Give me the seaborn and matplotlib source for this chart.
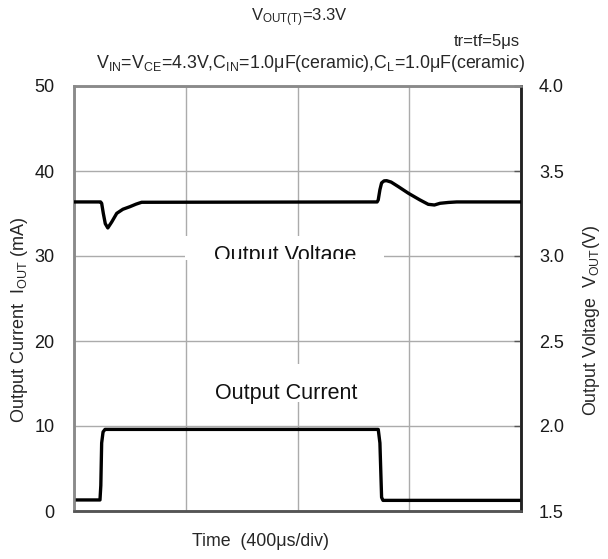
import matplotlib
matplotlib.use("Agg")
import matplotlib.pyplot as plt
import seaborn as sns
import pandas as pd
from matplotlib.patches import Rectangle

# ---- data (time in microseconds) ----
t_volt = [0, 95, 99, 105, 112, 121, 135, 153, 175, 200, 222, 242, 1085, 1089, 1095, 1101, 1110, 1119, 1135, 1161, 1197, 1238, 1268, 1290, 1310, 1340, 1370, 1600]
v_out = [3.318, 3.318, 3.31, 3.25, 3.19, 3.165, 3.20, 3.251, 3.275, 3.29, 3.305, 3.316, 3.318, 3.33, 3.39, 3.43, 3.442, 3.443, 3.435, 3.408, 3.369, 3.33, 3.304, 3.30, 3.31, 3.315, 3.318, 3.318]

t_curr = [0, 93, 96, 99, 104, 111, 1089, 1095, 1101, 1106, 1600]
i_out = [1.3, 1.3, 3.0, 8.0, 9.3, 9.6, 9.6, 8.0, 1.6, 1.25, 1.25]

x_ticks = [0, 400, 800, 1200, 1600]
y_left_ticks = [0, 10, 20, 30, 40, 50]
y_right_ticks = [1.5, 2.0, 2.5, 3.0, 3.5, 4.0]

sns.set_style("white")
plt.rcParams['font.family'] = ['Liberation Sans', 'DejaVu Sans']
plt.rcParams['mathtext.fontset'] = 'custom'
plt.rcParams['mathtext.rm'] = 'Liberation Sans'
plt.rcParams['mathtext.it'] = 'Liberation Sans:italic'
plt.rcParams['mathtext.bf'] = 'Liberation Sans:bold'

W, H = 608, 559
fig = plt.figure(figsize=(W / 100, H / 100), dpi=100)
L, R, T, B = 74, 521, 86, 511
ax = fig.add_axes([L / W, 1 - B / H, (R - L) / W, (B - T) / H])
ax2 = ax.twinx()

df_i = pd.DataFrame({"t": t_curr, "i": i_out})
df_v = pd.DataFrame({"t": t_volt, "v": v_out})

sns.lineplot(data=df_i, x="t", y="i", ax=ax, color="black", lw=2.4, estimator=None, zorder=5)
sns.lineplot(data=df_v, x="t", y="v", ax=ax2, color="black", lw=2.4, estimator=None, zorder=5)

ax.set_xlim(0, 1600)
ax.set_ylim(0, 50)
ax2.set_ylim(1.5, 4.0)
ax.set_xticks(x_ticks)
ax.set_xticklabels([])
ax.set_yticks(y_left_ticks)
ax.set_yticklabels([str(v) for v in y_left_ticks])
ax2.set_yticks(y_right_ticks)
ax2.set_yticklabels([f"{v:.1f}" for v in y_right_ticks])
ax.grid(True, color="#ababab", lw=1.0)
ax.set_axisbelow(True)
ax.set_xlabel("")
ax.set_ylabel("")
ax2.set_ylabel("")

ax.tick_params(axis="x", direction="out", length=5, width=1, color="#808080")
ax.tick_params(axis="y", length=0, pad=14, labelsize=13, labelcolor="#1a1a1a")
ax2.tick_params(axis="y", direction="in", length=5, width=1, color="#555555", pad=13, labelsize=13, labelcolor="#1a1a1a")

for a in (ax, ax2):
    for s in ("left", "top", "bottom"):
        a.spines[s].set_color("#8a8a8a")
        a.spines[s].set_linewidth(1.8)
    a.spines["right"].set_color("#222222")
    a.spines["right"].set_linewidth(1.8)
ax.spines["bottom"].set_color("#555555")
ax2.spines["bottom"].set_color("#555555")

def ax_x(px):
    return (px - L) / (R - L)

def ax_y(py):
    return (B - py) / (B - T)

# annotation boxes (white) covering gridlines
box_v = Rectangle((ax_x(185), ax_y(260)), ax_x(384) - ax_x(185), ax_y(236) - ax_y(260),
                  transform=ax2.transAxes, facecolor="white", edgecolor="none", zorder=2)
ax2.add_patch(box_v)
clip_v = Rectangle((ax_x(185), ax_y(259)), ax_x(384) - ax_x(185), ax_y(230) - ax_y(259),
                   transform=ax2.transAxes, facecolor="none", edgecolor="none")
ax2.add_patch(clip_v)
tv = ax2.text(ax_x(285), ax_y(261.5), "Output Voltage", transform=ax2.transAxes,
              ha="center", va="baseline", fontsize=15.5, color="#111111", zorder=3,
              clip_on=True)
tv.set_clip_path(clip_v)

box_i = Rectangle((ax_x(196), ax_y(402)), ax_x(374) - ax_x(196), ax_y(364) - ax_y(402),
                  transform=ax2.transAxes, facecolor="white", edgecolor="none", zorder=2)
ax2.add_patch(box_i)
ax2.text(ax_x(286), ax_y(398.5), "Output Current", transform=ax2.transAxes,
         ha="center", va="baseline", fontsize=15.5, color="#111111", zorder=3)

# header texts
fig.text(299 / W, 1 - 21 / H, r"V$_{\mathrm{OUT(T)}}$=3.3V", ha="center", va="baseline", fontsize=12)
fig.text(520 / W, 1 - 46 / H, "tr=tf=5μs", ha="right", va="baseline", fontsize=12)
fig.text(311 / W, 1 - 68 / H,
         r"V$_{\mathrm{IN}}$=V$_{\mathrm{CE}}$=4.3V,C$_{\mathrm{IN}}$=1.0μF(ceramic),C$_{\mathrm{L}}$=1.0μF(ceramic)",
         ha="center", va="baseline", fontsize=12.8)

# axis labels
fig.text(261 / W, 1 - 541 / H, "Time  (400μs/div)", ha="center", va="center", fontsize=12.8)
fig.text(20 / W, 1 - 320 / H, r"Output Current  I$_{\mathrm{OUT}}$ (mA)", rotation=90,
         ha="center", va="center", fontsize=13)
fig.text(591 / W, 1 - 320 / H, r"Output Voltage  V$_{\mathrm{OUT}}$(V)", rotation=90,
         ha="center", va="center", fontsize=12.8)

fig.savefig("out.png", dpi=100)
